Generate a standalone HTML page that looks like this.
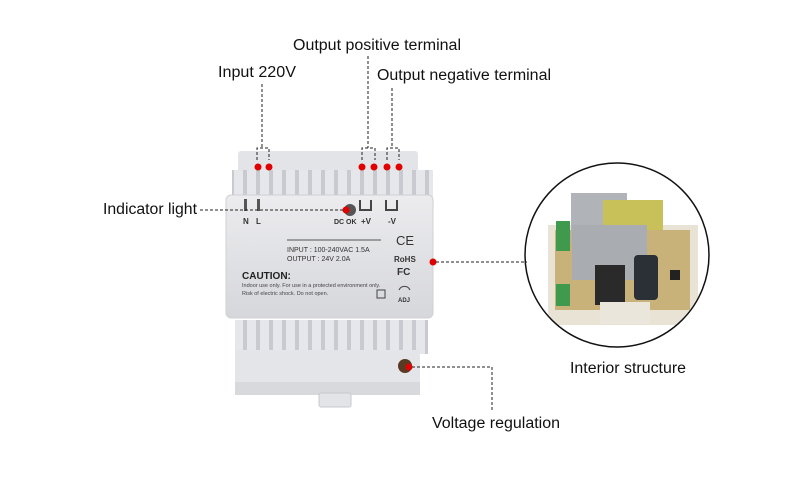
<!DOCTYPE html>
<html><head><meta charset="utf-8"><style>
body{margin:0;background:#fff}
svg{display:block}
text{font-family:"Liberation Sans",Arial,sans-serif}
</style></head><body>
<svg width="800" height="480" viewBox="0 0 800 480" xmlns="http://www.w3.org/2000/svg">
<defs>
<linearGradient id="g1" x1="0" x2="0" y1="0" y2="1"><stop offset="0" stop-color="#ececef"/><stop offset="1" stop-color="#d6d7db"/></linearGradient>
<pattern id="rib" width="13" height="40" patternUnits="userSpaceOnUse"><rect width="13" height="40" fill="#e6e7ea"/><rect x="9" width="4" height="40" fill="#c9cacf"/></pattern>
<clipPath id="cc"><circle cx="617" cy="255" r="91"/></clipPath>
</defs>
<rect x="238" y="151" width="180" height="30" rx="3" fill="#e3e4e8"/>
<rect x="232" y="170" width="201" height="28" fill="url(#rib)"/>
<rect x="235" y="320" width="193" height="34" fill="url(#rib)"/>
<rect x="235" y="350" width="185" height="45" fill="#e4e5e8"/>
<rect x="235" y="382" width="185" height="13" fill="#d8d9dd"/>
<rect x="319" y="393" width="32" height="14" rx="2" fill="#e3e4e7" stroke="#c8c9cc"/>
<rect x="226" y="195" width="207" height="123" rx="5" fill="url(#g1)" stroke="#d0d1d5"/>
<rect x="244" y="199" width="3" height="12" fill="#555"/><rect x="257" y="199" width="3" height="12" fill="#555"/>
<text x="243" y="224" font-size="8" font-weight="bold" fill="#333">N</text><text x="256" y="224" font-size="8" font-weight="bold" fill="#333">L</text>
<circle cx="350" cy="210" r="6" fill="#555"/>
<path d="M360 200v10h11v-10M386 200v10h11v-10" fill="none" stroke="#444" stroke-width="2"/>
<text x="334" y="224" font-size="7" font-weight="bold" fill="#333">DC OK</text>
<text x="361" y="224" font-size="8" font-weight="bold" fill="#333">+V</text>
<text x="388" y="224" font-size="8" font-weight="bold" fill="#333">-V</text>
<line x1="287" y1="240" x2="381" y2="240" stroke="#555"/>
<text x="287" y="252" font-size="7" fill="#333">INPUT :   100-240VAC     1.5A</text>
<text x="287" y="261" font-size="7" fill="#333">OUTPUT :         24V         2.0A</text>
<text x="396" y="245" font-size="13" fill="#333">CE</text>
<text x="394" y="262" font-size="8" font-weight="bold" fill="#333">RoHS</text>
<text x="397" y="275" font-size="10" font-weight="bold" fill="#333">FC</text>
<text x="242" y="279" font-size="10" font-weight="bold" fill="#222">CAUTION:</text>
<text x="242" y="287" font-size="5.5" fill="#444">Indoor use only. For use in a protected environment only.</text>
<text x="242" y="295" font-size="5.5" fill="#444">Risk of electric shock. Do not open.</text>
<rect x="377" y="290" width="8" height="8" fill="none" stroke="#444"/>
<path d="M399 290a6 6 0 0 1 11 0" fill="none" stroke="#444"/>
<text x="398" y="302" font-size="6" font-weight="bold" fill="#333">ADJ</text>
<circle cx="405" cy="366" r="7" fill="#5a3a22"/>
<circle cx="617" cy="255" r="92" fill="#fff" stroke="#111" stroke-width="1.5"/>
<g clip-path="url(#cc)">
<rect x="548" y="225" width="150" height="100" fill="#e9e3d6"/>
<rect x="555" y="230" width="135" height="80" fill="#c9b27a"/>
<rect x="571" y="193" width="56" height="50" fill="#b0b3b8"/>
<rect x="603" y="200" width="60" height="30" fill="#c8c15a"/>
<rect x="572" y="225" width="75" height="55" fill="#a9adb2"/>
<rect x="556" y="221" width="14" height="30" fill="#3f9a4e"/>
<rect x="556" y="284" width="14" height="22" fill="#3f9a4e"/>
<rect x="634" y="255" width="24" height="45" rx="4" fill="#2b2f36"/>
<rect x="595" y="265" width="30" height="40" fill="#2a2a2a"/>
<rect x="600" y="302" width="50" height="22" fill="#ebe6db"/>
<rect x="670" y="270" width="10" height="10" fill="#222"/>
</g>
<g fill="#e00000">
<circle cx="258" cy="167" r="3.5"/><circle cx="269" cy="167" r="3.5"/>
<circle cx="362" cy="167" r="3.5"/><circle cx="374" cy="167" r="3.5"/><circle cx="387" cy="167" r="3.5"/><circle cx="399" cy="167" r="3.5"/>
<circle cx="346" cy="210" r="3.5"/><circle cx="433" cy="262" r="3.5"/><circle cx="409" cy="367" r="3.5"/>
</g>
<g fill="none" stroke="#222" stroke-width="1" stroke-dasharray="3,2">
<path d="M262 84V148M257 160V148H269V160"/>
<path d="M368 56V148M362 160V148H375V160"/>
<path d="M392 88V148M387 160V148H399V160"/>
<path d="M200 210H343"/>
<path d="M436 262H527"/>
<path d="M412 367H492V412"/>
</g>
<g font-size="15.5" fill="#111">
<text x="218" y="77" textLength="78" lengthAdjust="spacingAndGlyphs">Input 220V</text>
<text x="293" y="50" textLength="168" lengthAdjust="spacingAndGlyphs">Output positive terminal</text>
<text x="377" y="80" textLength="174" lengthAdjust="spacingAndGlyphs">Output negative terminal</text>
<text x="103" y="214" textLength="94" lengthAdjust="spacingAndGlyphs">Indicator light</text>
<text x="570" y="373" textLength="116" lengthAdjust="spacingAndGlyphs">Interior structure</text>
<text x="432" y="428" textLength="128" lengthAdjust="spacingAndGlyphs">Voltage regulation</text>
</g>
</svg>
</body></html>
